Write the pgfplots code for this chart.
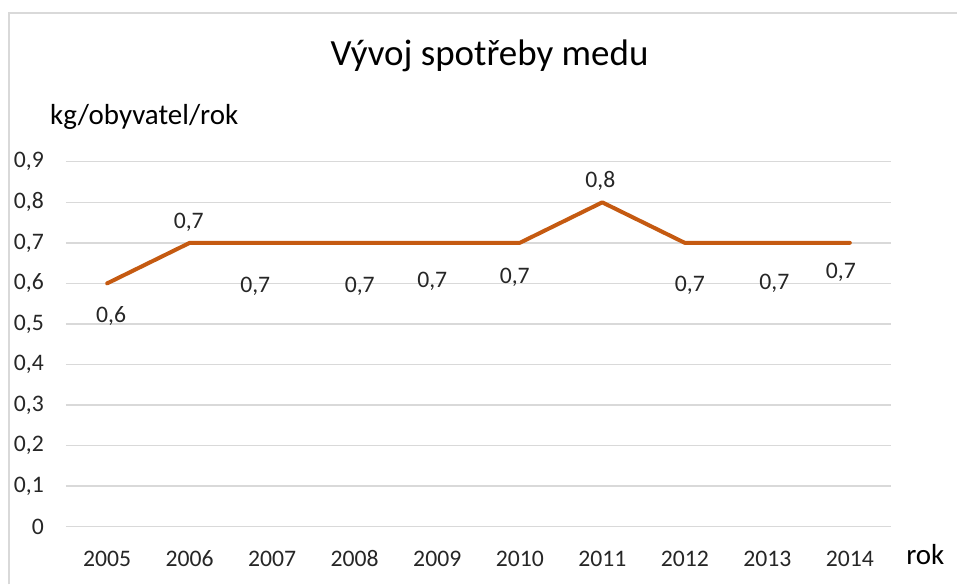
\documentclass[border=0pt]{standalone}
\usepackage{pgfplots}
\usepackage{pgfplotstable}
\pgfplotsset{compat=1.18}
\usepackage{fontspec}
\setmainfont{Carlito}
\definecolor{linec}{HTML}{C55A11}
\definecolor{gridc}{HTML}{D9D9D9}
\definecolor{borderc}{HTML}{D9D9D9}
\definecolor{textc}{HTML}{262626}
\pgfplotstableread{
x y dx dy
0 0.6 4 -39.5
1 0.7 -1 14.5
2 0.7 -17 -49.5
3 0.7 5 -49.5
4 0.7 -5 -44.5
5 0.7 -5 -40.5
6 0.8 -2 14.5
7 0.7 5 -48.5
8 0.7 7 -46.5
9 0.7 -9 -35.5
}\datatable
\begin{document}
\begin{tikzpicture}[x=1pt,y=1pt]
\path (0,0) rectangle (958,585);
\draw[borderc, line width=2pt] (9,0) -- (9,572) -- (958,572);
\begin{axis}[
  at={(66pt,58pt)}, anchor=south west,
  scale only axis, width=826pt, height=365pt,
  xmin=-0.5, xmax=9.5, ymin=0, ymax=0.9,
  xtick={0,...,9},
  xticklabels={2005,2006,2007,2008,2009,2010,2011,2012,2013,2014},
  ytick={0,0.1,...,0.9},
  ymajorgrids, major grid style={gridc, line width=1.3pt},
  axis line style={draw=none},
  major tick length=0pt,
  clip=false,
  /pgf/number format/.cd, use comma, fixed, precision=1, assume math mode=true,
  /pgfplots/.cd,
  tick label style={font=\fontsize{23.7}{28}\selectfont, text=textc, inner sep=0pt},
  xticklabel style={anchor=base, yshift=-40pt},
  yticklabel style={anchor=east, xshift=-22pt},
]
\addplot[linec, line width=4pt, line cap=round, line join=round, mark=none,
  nodes near coords, point meta=y,
  visualization depends on={\thisrow{dx} \as \dx},
  visualization depends on={\thisrow{dy} \as \dy},
  every node near coord/.append style={anchor=base, xshift=\dx pt, yshift=\dy pt,
     font=\fontsize{23.7}{28}\selectfont, text=textc, inner sep=0pt}
] table[x=x, y=y] {\datatable};
\end{axis}
\node[anchor=base, inner sep=0pt, text=black, font=\fontsize{37}{44}\selectfont] at (490,519) {Vývoj spotřeby medu};
\node[anchor=base west, inner sep=0pt, text=black, font=\fontsize{29}{34}\selectfont] at (50,460) {kg/obyvatel/rok};
\node[anchor=base west, inner sep=0pt, text=black, font=\fontsize{29}{34}\selectfont] at (907,20) {rok};
\end{tikzpicture}
\end{document}
